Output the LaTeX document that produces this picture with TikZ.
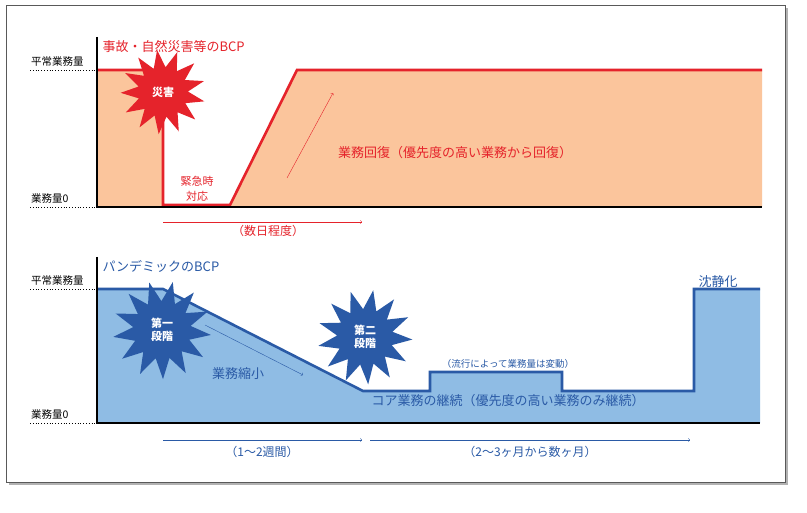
\documentclass[tikz,border=0pt]{standalone}
\usepackage{fontspec}
\setmainfont{Noto Sans CJK JP}
\usetikzlibrary{shapes.geometric}
\definecolor{bcpred}{HTML}{E5232B}
\definecolor{peach}{HTML}{FBC59C}
\definecolor{bcpblue}{HTML}{2A5AA6}
\definecolor{skyfill}{HTML}{8FBCE4}
\begin{document}
\begin{tikzpicture}[x=1pt,y=-1pt]
\tikzstyle{level}=[dotted, thick]
\tikzstyle{curve}=[line width=2.6pt]
\tikzstyle{axislbl}=[anchor=south west, inner sep=1pt, font=\fontsize{10.5}{10.5}\selectfont]
\tikzstyle{burst}=[star, star points=13, star point ratio=1.7, inner sep=6pt,
  font=\bfseries\fontsize{11}{12}\selectfont, text=white, align=center]
\useasboundingbox (0,0) rectangle (807,513);

% frame with shadow
\fill[gray!60] (9,8) rectangle (788,485);
\draw[draw=gray!70!black, fill=white] (6,5) rectangle (785,482);

% ---------- upper chart ----------
\fill[peach] (97,70) rectangle (163,207);
\fill[peach] (230,207) -- (297,70) -- (762,70) -- (762,207) -- cycle;
\draw[bcpred, curve] (97,70) -- (163,70) -- (163,205) -- (230,205)
      -- (297,70) -- (762,70);
\draw[line width=2.5pt] (97,37) -- (97,207) -- (762,207);
\draw[level] (30,70) -- (97,70);
\draw[level] (30,207) -- (97,207);
\node[axislbl] (normA) at (30,68) {平常業務量};
\node[axislbl] (zeroA) at (30,205) {業務量0};
\node[anchor=west, text=bcpred, font=\fontsize{13}{13}\selectfont] (titleA)
      at (99,47) {事故・自然災害等のBCP};
\node[burst, fill=bcpred, rotate=8] (disaster) at (163,92) {\rotatebox{-8}{災害}};
\node[text=bcpred, font=\fontsize{11}{15}\selectfont, align=center] (emerg)
      at (197,189) {緊急時\\対応};
\coordinate (upS) at (287,178);
\coordinate (upE) at (333,93);
\draw[bcpred, ->] (upS) -- (upE);
\node[text=bcpred, font=\fontsize{13}{13}\selectfont] (recover) at (455,153)
      {業務回復（優先度の高い業務から回復）};
\coordinate (dayS) at (163,222);
\coordinate (dayE) at (362,222);
\draw[bcpred, ->] (dayS) -- (dayE);
\node[text=bcpred, font=\fontsize{12}{12}\selectfont] (days) at (268,231) {（数日程度）};

% ---------- lower chart ----------
\fill[skyfill] (97,289) -- (163,289) -- (363,391) -- (430,391) -- (430,372)
      -- (562,372) -- (562,391) -- (694,391) -- (694,289) -- (760,289)
      -- (760,423) -- (97,423) -- cycle;
\draw[bcpblue, curve] (97,289) -- (163,289) -- (363,391) -- (430,391)
      -- (430,372) -- (562,372) -- (562,391) -- (694,391) -- (694,289) -- (760,289);
\draw[line width=2.5pt] (97,257) -- (97,423) -- (760,423);
\draw[level] (30,289) -- (97,289);
\draw[level] (30,423) -- (97,423);
\node[axislbl] (normB) at (30,287) {平常業務量};
\node[axislbl] (zeroB) at (30,421) {業務量0};
\node[anchor=west, text=bcpblue, font=\fontsize{13}{13}\selectfont] (titleB)
      at (99,266) {パンデミックのBCP};
\node[burst, fill=bcpblue, rotate=15] (stage1) at (162,330) {\rotatebox{-15}{\shortstack{第一\\段階}}};
\node[burst, fill=bcpblue, rotate=-10] (stage2) at (365,337) {\rotatebox{10}{\shortstack{第二\\段階}}};
\coordinate (shrS) at (205,325);
\coordinate (shrE) at (303,375);
\draw[bcpblue, ->] (shrS) -- (shrE);
\node[text=bcpblue, font=\fontsize{13}{13}\selectfont] (shrink) at (238,374) {業務縮小};
\node[text=bcpblue, font=\fontsize{13}{13}\selectfont] (core) at (508,401)
      {コア業務の継続（優先度の高い業務のみ継続）};
\node[text=bcpblue, font=\fontsize{9.5}{9.5}\selectfont] (vary) at (508,364)
      {（流行によって業務量は変動）};
\node[text=bcpblue, font=\fontsize{13}{13}\selectfont] (calm) at (718,282) {沈静化};
\coordinate (wkS) at (163,440);
\coordinate (wkE) at (362,440);
\coordinate (moS) at (370,440);
\coordinate (moE) at (690,440);
\draw[bcpblue, ->] (wkS) -- (wkE);
\draw[bcpblue, ->] (moS) -- (moE);
\node[text=bcpblue, font=\fontsize{12}{12}\selectfont] (weeks) at (262,452) {（1〜2週間）};
\node[text=bcpblue, font=\fontsize{12}{12}\selectfont] (months) at (530,452) {（2〜3ヶ月から数ヶ月）};
\end{tikzpicture}
\end{document}
